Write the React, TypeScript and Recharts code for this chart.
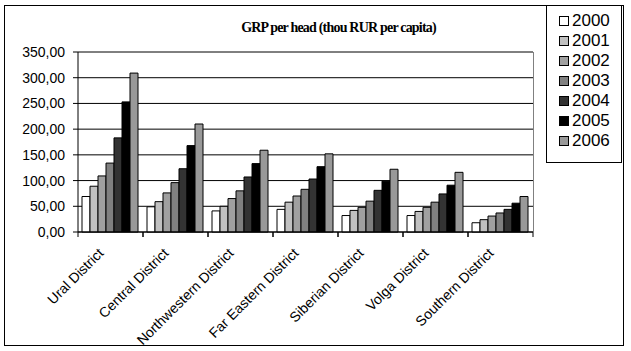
import { BarChart, Bar, XAxis, YAxis, CartesianGrid, ReferenceLine } from 'recharts';

const districts = [
  'Ural District',
  'Central District',
  'Northwestern District',
  'Far Eastern District',
  'Siberian District',
  'Volga District',
  'Southern District',
];

const years = ['2000', '2001', '2002', '2003', '2004', '2005', '2006'];

const y2000 = [69, 49, 41, 44, 32, 32, 18];
const y2001 = [89, 59, 50, 58, 42, 40, 24];
const y2002 = [109, 76, 65, 70, 48, 48, 31];
const y2003 = [134, 96, 80, 83, 60, 58, 37];
const y2004 = [183, 123, 107, 103, 81, 74, 44];
const y2005 = [253, 168, 133, 127, 99, 91, 56];
const y2006 = [309, 210, 159, 152, 122, 116, 69];

const yTicks = [0, 50, 100, 150, 200, 250, 300, 350];

const seriesValues = [y2000, y2001, y2002, y2003, y2004, y2005, y2006];
const colors = ['#ffffff', '#c0c0c0', '#a0a0a0', '#808080', '#333333', '#000000', '#999999'];

const data = districts.map((name, i) => {
  const row: Record<string, string | number> = { name };
  years.forEach((yr, j) => {
    row[yr] = seriesValues[j][i];
  });
  return row;
});

const fmt = (v: number) => v.toFixed(2).replace('.', ',');

function XTick(props: any) {
  const { x, y, payload } = props;
  const off = payload.offset || 0;
  const tx = x - 6;
  const ty = y + 14;
  return (
    <g>
      <line x1={x - off} y1={y - 8} x2={x - off} y2={y - 3} stroke="#000" />
      <line x1={x + off} y1={y - 8} x2={x + off} y2={y - 3} stroke="#000" />
      <text
        x={tx}
        y={ty}
        textAnchor="end"
        transform={`rotate(-45 ${tx} ${ty})`}
        fontFamily="Arial, 'Liberation Sans', sans-serif"
        fontSize={14}
        fill="#000"
      >
        {payload.value}
      </text>
    </g>
  );
}

function LegendBox() {
  return (
    <div
      style={{
        position: 'absolute',
        left: 546,
        top: 5,
        width: 76,
        height: 158,
        border: '1px solid #000',
        background: '#fff',
        boxSizing: 'border-box',
        paddingTop: 5,
      }}
    >
      {years.map((yr, j) => (
        <div key={yr} style={{ display: 'flex', alignItems: 'center', height: 20 }}>
          <span
            style={{
              display: 'inline-block',
              width: 8,
              height: 8,
              border: '1px solid #000',
              background: colors[j],
              marginLeft: 12,
              marginRight: 3,
            }}
          />
          <span style={{ fontFamily: "Arial, 'Liberation Sans', sans-serif", fontSize: 17, color: '#000' }}>
            {yr}
          </span>
        </div>
      ))}
    </div>
  );
}

export default function App() {
  return (
    <div style={{ position: 'absolute', left: 0, top: 0, width: 631, height: 351, background: '#fff' }}>
      <div
        style={{
          position: 'absolute',
          left: 4,
          top: 5,
          width: 620,
          height: 341,
          border: '1px solid #000',
          boxSizing: 'border-box',
        }}
      />
      <div
        style={{
          position: 'absolute',
          left: 78,
          width: 521,
          top: 20,
          textAlign: 'center',
          fontFamily: "'Times New Roman', 'Liberation Serif', serif",
          fontWeight: 'bold',
          fontSize: 14,
          letterSpacing: -0.8,
        }}
      >
        GRP per head (thou RUR per capita)
      </div>
      <div
        style={{
          position: 'absolute',
          left: 78,
          top: 52,
          width: 456,
          height: 180,
          borderRight: '1px solid #808080',
          boxSizing: 'border-box',
        }}
      />
      <BarChart
        width={631}
        height={351}
        data={data}
        margin={{ top: 52, right: 98, bottom: 9, left: 8 }}
        barCategoryGap={4}
        barGap={0}
        style={{ position: 'absolute', left: 0, top: 0 }}
      >
        <CartesianGrid vertical={false} stroke="#000" strokeWidth={1} />
        <XAxis
          dataKey="name"
          interval={0}
          height={110}
          tick={<XTick />}
          tickLine={false}
          axisLine={{ stroke: '#000' }}
        />
        <YAxis
          width={70}
          domain={[0, 350]}
          ticks={yTicks}
          tickFormatter={fmt}
          tickSize={5}
          tickMargin={8}
          axisLine={{ stroke: '#000' }}
          tickLine={{ stroke: '#000' }}
          tick={{ fill: '#000', fontSize: 14, fontFamily: "Arial, 'Liberation Sans', sans-serif" }}
        />
        <ReferenceLine y={350} stroke="#808080" />
        {years.map((yr, j) => (
          <Bar key={yr} dataKey={yr} name={yr} fill={colors[j]} stroke="#000" strokeWidth={1} isAnimationActive={false} />
        ))}
      </BarChart>
      <LegendBox />
    </div>
  );
}
